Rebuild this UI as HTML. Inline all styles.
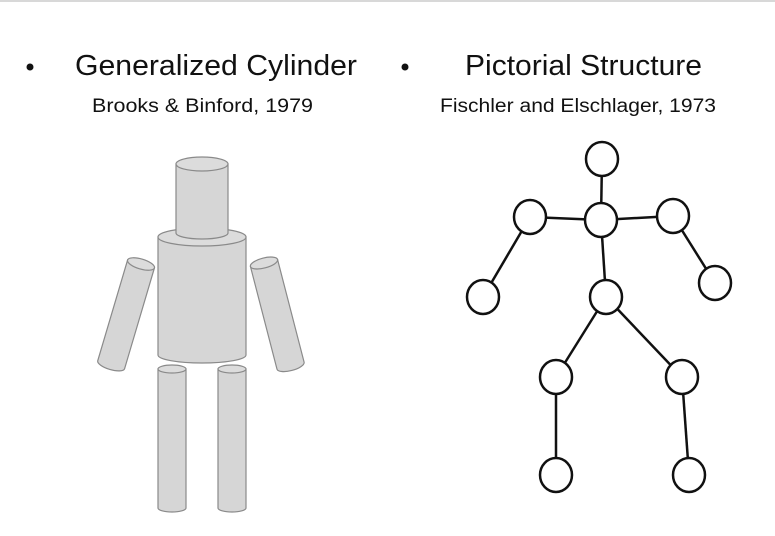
<!DOCTYPE html>
<html><head><style>html,body{margin:0;padding:0;background:#fff;}svg{display:block}</style></head>
<body>
<svg width="775" height="536" viewBox="0 0 775 536" xmlns="http://www.w3.org/2000/svg" font-family="Liberation Sans, sans-serif">
<rect x="0" y="0" width="775" height="2" fill="#d8d8d8"/>
<circle cx="30" cy="67" r="3.5" fill="#111"/>
<circle cx="405" cy="67" r="3.5" fill="#111"/>
<text x="75" y="75" font-size="29" fill="#111" textLength="282" lengthAdjust="spacingAndGlyphs">Generalized Cylinder</text>
<text x="465" y="75" font-size="29" fill="#111" textLength="237" lengthAdjust="spacingAndGlyphs">Pictorial Structure</text>
<text x="92" y="112" font-size="19" fill="#111" textLength="221" lengthAdjust="spacingAndGlyphs">Brooks &amp; Binford, 1979</text>
<text x="440" y="112" font-size="19" fill="#111" textLength="276" lengthAdjust="spacingAndGlyphs">Fischler and Elschlager, 1973</text>
<g fill="#d6d6d6" stroke="#8a8a8a" stroke-width="1.2">
<!-- torso -->
<path d="M158 237 L158 355 A44 8 0 0 0 246 355 L246 237 Z"/>
<ellipse cx="202" cy="237" rx="44" ry="9" fill="#dcdcdc"/>
<!-- head -->
<path d="M176 164 L176 233 A26 6 0 0 0 228 233 L228 164 Z"/>
<ellipse cx="202" cy="164" rx="26" ry="7" fill="#dcdcdc"/>
<!-- left arm -->
<g transform="translate(141,264) rotate(16.5)">
<path d="M-14 0 L-14 105 A14 5 0 0 0 14 105 L14 0 Z"/>
<ellipse cx="0" cy="0" rx="14" ry="5" fill="#dcdcdc"/>
</g>
<!-- right arm -->
<g transform="translate(264,263) rotate(-14.5)">
<path d="M-14 0 L-14 106 A14 5 0 0 0 14 106 L14 0 Z"/>
<ellipse cx="0" cy="0" rx="14" ry="5" fill="#dcdcdc"/>
</g>
<!-- legs -->
<path d="M158 369 L158 508 A14 4 0 0 0 186 508 L186 369 Z"/>
<ellipse cx="172" cy="369" rx="14" ry="4" fill="#dcdcdc"/>
<path d="M218 369 L218 508 A14 4 0 0 0 246 508 L246 369 Z"/>
<ellipse cx="232" cy="369" rx="14" ry="4" fill="#dcdcdc"/>
</g>
<g stroke="#111" stroke-width="2.5" fill="none">
<line x1="602" y1="159" x2="601" y2="220"/>
<line x1="530" y1="217" x2="601" y2="220"/>
<line x1="673" y1="216" x2="601" y2="220"/>
<line x1="530" y1="217" x2="483" y2="297"/>
<line x1="673" y1="216" x2="715" y2="283"/>
<line x1="601" y1="220" x2="606" y2="297"/>
<line x1="606" y1="297" x2="556" y2="377"/>
<line x1="606" y1="297" x2="682" y2="377"/>
<line x1="556" y1="377" x2="556" y2="475"/>
<line x1="682" y1="377" x2="689" y2="475"/>
</g>
<g stroke="#111" stroke-width="2.5" fill="#fff">
<ellipse cx="602" cy="159" rx="16" ry="17"/>
<ellipse cx="601" cy="220" rx="16" ry="17"/>
<ellipse cx="530" cy="217" rx="16" ry="17"/>
<ellipse cx="673" cy="216" rx="16" ry="17"/>
<ellipse cx="483" cy="297" rx="16" ry="17"/>
<ellipse cx="715" cy="283" rx="16" ry="17"/>
<ellipse cx="606" cy="297" rx="16" ry="17"/>
<ellipse cx="556" cy="377" rx="16" ry="17"/>
<ellipse cx="682" cy="377" rx="16" ry="17"/>
<ellipse cx="556" cy="475" rx="16" ry="17"/>
<ellipse cx="689" cy="475" rx="16" ry="17"/>
</g>
</svg>
</body></html>
